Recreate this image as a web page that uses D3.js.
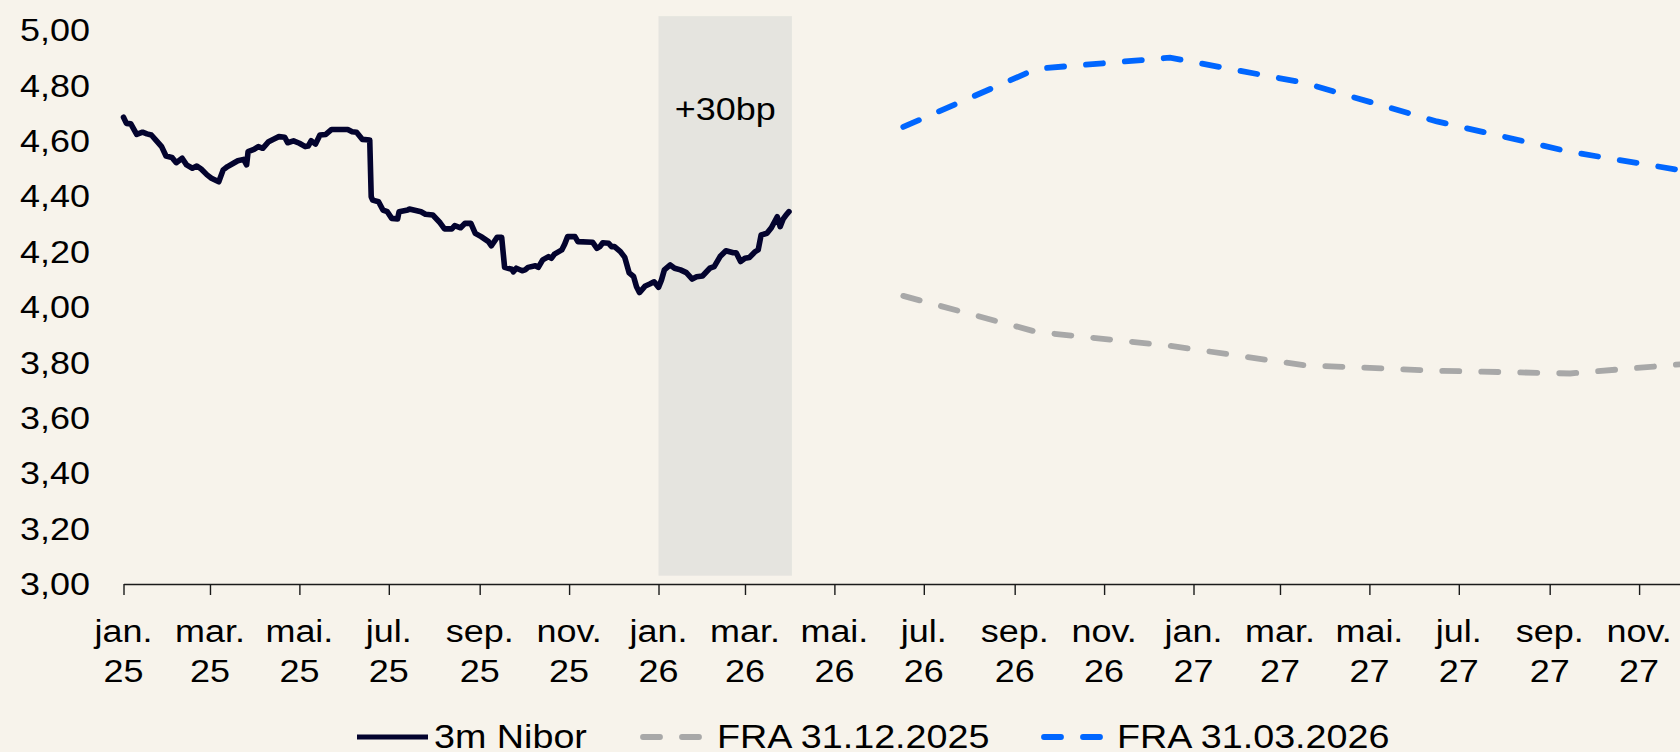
<!DOCTYPE html>
<html>
<head>
<meta charset="utf-8">
<script src="https://cdn.jsdelivr.net/npm/d3@7"></script>
<style>
  body { margin: 0; background: #f7f3eb; }
  svg { display: block; font-family: "Liberation Sans", Arial, sans-serif; }
</style>
</head>
<body>
<div id="chart"></div>
<script>
// #####################################################
// Data
//
var niborDates = [
  "2025-01-01","2025-01-03","2025-01-06","2025-01-10","2025-01-14","2025-01-17","2025-01-20","2025-01-24",
  "2025-01-27","2025-01-30","2025-02-03","2025-02-06","2025-02-10","2025-02-13","2025-02-17","2025-02-20",
  "2025-02-23","2025-02-27","2025-03-02","2025-03-07","2025-03-10","2025-03-13","2025-03-17","2025-03-20",
  "2025-03-24","2025-03-26","2025-03-27","2025-03-31","2025-04-03","2025-04-06","2025-04-10","2025-04-13",
  "2025-04-17","2025-04-21","2025-04-23","2025-04-27","2025-05-01","2025-05-05","2025-05-07","2025-05-09",
  "2025-05-12","2025-05-15","2025-05-19","2025-05-23","2025-06-03","2025-06-06","2025-06-09","2025-06-13",
  "2025-06-18","2025-06-19","2025-06-20","2025-06-24","2025-06-27","2025-06-30","2025-07-03","2025-07-07",
  "2025-07-08","2025-07-14","2025-07-15","2025-07-23","2025-07-26","2025-07-31","2025-08-05","2025-08-08",
  "2025-08-13","2025-08-15","2025-08-19","2025-08-22","2025-08-26","2025-08-29","2025-09-02","2025-09-07",
  "2025-09-09","2025-09-13","2025-09-16","2025-09-18","2025-09-23","2025-09-24","2025-09-26","2025-09-30",
  "2025-10-02","2025-10-04","2025-10-09","2025-10-11","2025-10-14","2025-10-18","2025-10-20","2025-10-22",
  "2025-10-27","2025-10-29","2025-10-31","2025-11-05","2025-11-07","2025-11-17","2025-11-20","2025-11-22",
  "2025-11-24","2025-11-28","2025-11-30","2025-12-02","2025-12-06","2025-12-09","2025-12-12","2025-12-15",
  "2025-12-17","2025-12-19","2025-12-23","2025-12-26","2025-12-29","2026-01-01","2026-01-03","2026-01-05",
  "2026-01-09","2026-01-12","2026-01-16","2026-01-20","2026-01-24","2026-01-27","2026-01-31","2026-02-05",
  "2026-02-08","2026-02-12","2026-02-16","2026-02-21","2026-02-23","2026-02-26","2026-03-01","2026-03-04",
  "2026-03-08","2026-03-10","2026-03-12","2026-03-16","2026-03-19","2026-03-23","2026-03-25","2026-03-27",
  "2026-03-29","2026-03-31"
];
var niborValues = [
  4.685,4.663,4.661,4.623,4.631,4.625,4.621,4.597,
  4.579,4.545,4.540,4.521,4.537,4.513,4.501,4.509,
  4.498,4.477,4.465,4.452,4.495,4.507,4.519,4.528,
  4.533,4.513,4.561,4.569,4.579,4.573,4.597,4.605,
  4.615,4.613,4.593,4.600,4.591,4.579,4.581,4.600,
  4.588,4.621,4.623,4.641,4.641,4.633,4.631,4.605,
  4.603,4.398,4.386,4.380,4.350,4.344,4.320,4.318,
  4.344,4.350,4.354,4.344,4.335,4.332,4.304,4.282,
  4.282,4.294,4.286,4.302,4.302,4.266,4.254,4.236,
  4.221,4.252,4.252,4.143,4.136,4.127,4.140,4.131,
  4.134,4.143,4.149,4.143,4.170,4.182,4.176,4.191,
  4.206,4.227,4.254,4.254,4.236,4.234,4.212,4.218,
  4.232,4.230,4.218,4.218,4.200,4.179,4.123,4.110,
  4.073,4.052,4.076,4.083,4.091,4.071,4.097,4.134,
  4.152,4.140,4.134,4.124,4.101,4.109,4.112,4.140,
  4.146,4.182,4.203,4.196,4.196,4.164,4.176,4.179,
  4.200,4.206,4.260,4.266,4.286,4.326,4.290,4.317,
  4.332,4.344
];

// FRA curves, at IMM dates
var fraDates  = ["2026-06-17","2026-09-16","2026-12-16","2027-03-17","2027-06-16","2027-09-15","2027-12-15"];
var fraDec25  = [4.04, 3.91, 3.86, 3.79, 3.77, 3.76, 3.80];
var fraMar26  = [4.65, 4.86, 4.90, 4.81, 4.67, 4.56, 4.48];

var yTicks = [3.0, 3.2, 3.4, 3.6, 3.8, 4.0, 4.2, 4.4, 4.6, 4.8, 5.0];
var monthNames = ["jan.","feb.","mar.","apr.","mai.","jun.","jul.","aug.","sep.","okt.","nov.","des."];
var xStart = "2025-01-01", xEnd = "2027-11-30";

var shadeDates = ["2026-01-01", "2026-04-02"];
var shadeValues = [3.03, 5.05];
var shadeLabel = "+30bp";

var legendNames = ["3m Nibor", "FRA 31.12.2025", "FRA 31.03.2026"];
var colors = {nibor: "#03032e", dec25: "#a8a8a8", mar26: "#0066ff"};

// #####################################################
// Setup
//
var W = 1680, H = 752;
var sx = 1.16;          // text in the original is stretched horizontally
var fs = 31;
var parse = d3.timeParse("%Y-%m-%d");

var svg = d3.select("#chart").append("svg")
    .attr("width", W)
    .attr("height", H);

svg.append("rect").attr("width", W).attr("height", H).attr("fill", "#f7f3eb");

var x = d3.scaleTime()
    .domain([parse(xStart), parse(xEnd)])
    .range([123.5, 1681.6]);
var y = d3.scaleLinear()
    .domain([3, 5])
    .range([584, 30]);

// shaded period
svg.append("rect")
    .attr("x", x(parse(shadeDates[0])))
    .attr("width", x(parse(shadeDates[1])) - x(parse(shadeDates[0])))
    .attr("y", y(shadeValues[1]))
    .attr("height", y(shadeValues[0]) - y(shadeValues[1]))
    .attr("fill", "#e5e4df");

svg.append("g")
    .attr("transform", "translate(" + (x(parse(shadeDates[0])) + x(parse(shadeDates[1]))) / 2 + ",120) scale(" + sx + ",1)")
  .append("text")
    .attr("text-anchor", "middle")
    .attr("font-size", fs)
    .attr("fill", "#000")
    .text(shadeLabel);

// y labels (no axis line)
svg.append("g").selectAll("g")
    .data(yTicks)
  .enter().append("g")
    .attr("transform", function(d) { return "translate(90," + y(d) + ") scale(" + sx + ",1)"; })
  .append("text")
    .attr("text-anchor", "end")
    .attr("dy", "0.36em")
    .attr("font-size", fs)
    .attr("fill", "#000")
    .text(function(d) { return d.toFixed(2).replace(".", ","); });

// x axis
var xTicks = d3.timeMonth.every(2).range(parse(xStart), parse(xEnd));
var xAxis = svg.append("g")
    .attr("transform", "translate(0," + y(3) + ")")
    .call(d3.axisBottom(x).tickValues(xTicks).tickSize(11).tickSizeOuter(0).tickFormat(""));
xAxis.select(".domain").attr("stroke", "#1a1a1a").attr("stroke-width", 1.6);
xAxis.selectAll(".tick line").attr("stroke", "#1a1a1a").attr("stroke-width", 1.4);
xAxis.selectAll(".tick text").remove();

var xl = svg.append("g").selectAll("g")
    .data(xTicks)
  .enter().append("g")
    .attr("transform", function(d) { return "translate(" + x(d) + ",0)"; });
xl.append("text")
    .attr("transform", "translate(0,642) scale(" + sx + ",1)")
    .attr("text-anchor", "middle")
    .attr("font-size", fs)
    .text(function(d) { return monthNames[d.getMonth()]; });
xl.append("text")
    .attr("transform", "translate(0,682) scale(" + sx + ",1)")
    .attr("text-anchor", "middle")
    .attr("font-size", fs)
    .text(function(d) { return d3.timeFormat("%y")(d); });

// lines
var line = d3.line()
    .x(function(d) { return x(d.date); })
    .y(function(d) { return y(d.value); });

var nibor = niborDates.map(function(d, i) { return {date: parse(d), value: niborValues[i]}; });
var dec25 = fraDates.map(function(d, i) { return {date: parse(d), value: fraDec25[i]}; });
var mar26 = fraDates.map(function(d, i) { return {date: parse(d), value: fraMar26[i]}; });

svg.append("path").datum(dec25)
    .attr("d", line)
    .attr("fill", "none")
    .attr("stroke", colors.dec25)
    .attr("stroke-width", 5.8)
    .attr("stroke-linecap", "round")
    .attr("stroke-dasharray", "17,22");

svg.append("path").datum(mar26)
    .attr("d", line)
    .attr("fill", "none")
    .attr("stroke", colors.mar26)
    .attr("stroke-width", 5.8)
    .attr("stroke-linecap", "round")
    .attr("stroke-dasharray", "17,22");

svg.append("path").datum(nibor)
    .attr("d", line)
    .attr("fill", "none")
    .attr("stroke", colors.nibor)
    .attr("stroke-width", 5.6)
    .attr("stroke-linejoin", "round")
    .attr("stroke-linecap", "round");

// #####################################################
// Legend
//
var legend = [
  {name: legendNames[0], color: colors.nibor, dash: null, x0: 357, x1: 428, tx: 434},
  {name: legendNames[1], color: colors.dec25, dash: "17,22", x0: 643, x1: 700, tx: 717},
  {name: legendNames[2], color: colors.mar26, dash: "17,22", x0: 1044, x1: 1106, tx: 1117}
];
var lg = svg.append("g").selectAll("g")
    .data(legend)
  .enter().append("g");
lg.append("line")
    .attr("x1", function(d) { return d.x0; })
    .attr("x2", function(d) { return d.x1; })
    .attr("y1", 737).attr("y2", 737)
    .attr("stroke", function(d) { return d.color; })
    .attr("stroke-width", function(d) { return d.dash ? 5.8 : 5.2; })
    .attr("stroke-linecap", function(d) { return d.dash ? "round" : "butt"; })
    .attr("stroke-dasharray", function(d) { return d.dash; });
lg.append("text")
    .attr("transform", function(d) { return "translate(" + d.tx + ",748) scale(" + sx + ",1)"; })
    .attr("font-size", 32.5)
    .text(function(d) { return d.name; });
</script>
</body>
</html>
